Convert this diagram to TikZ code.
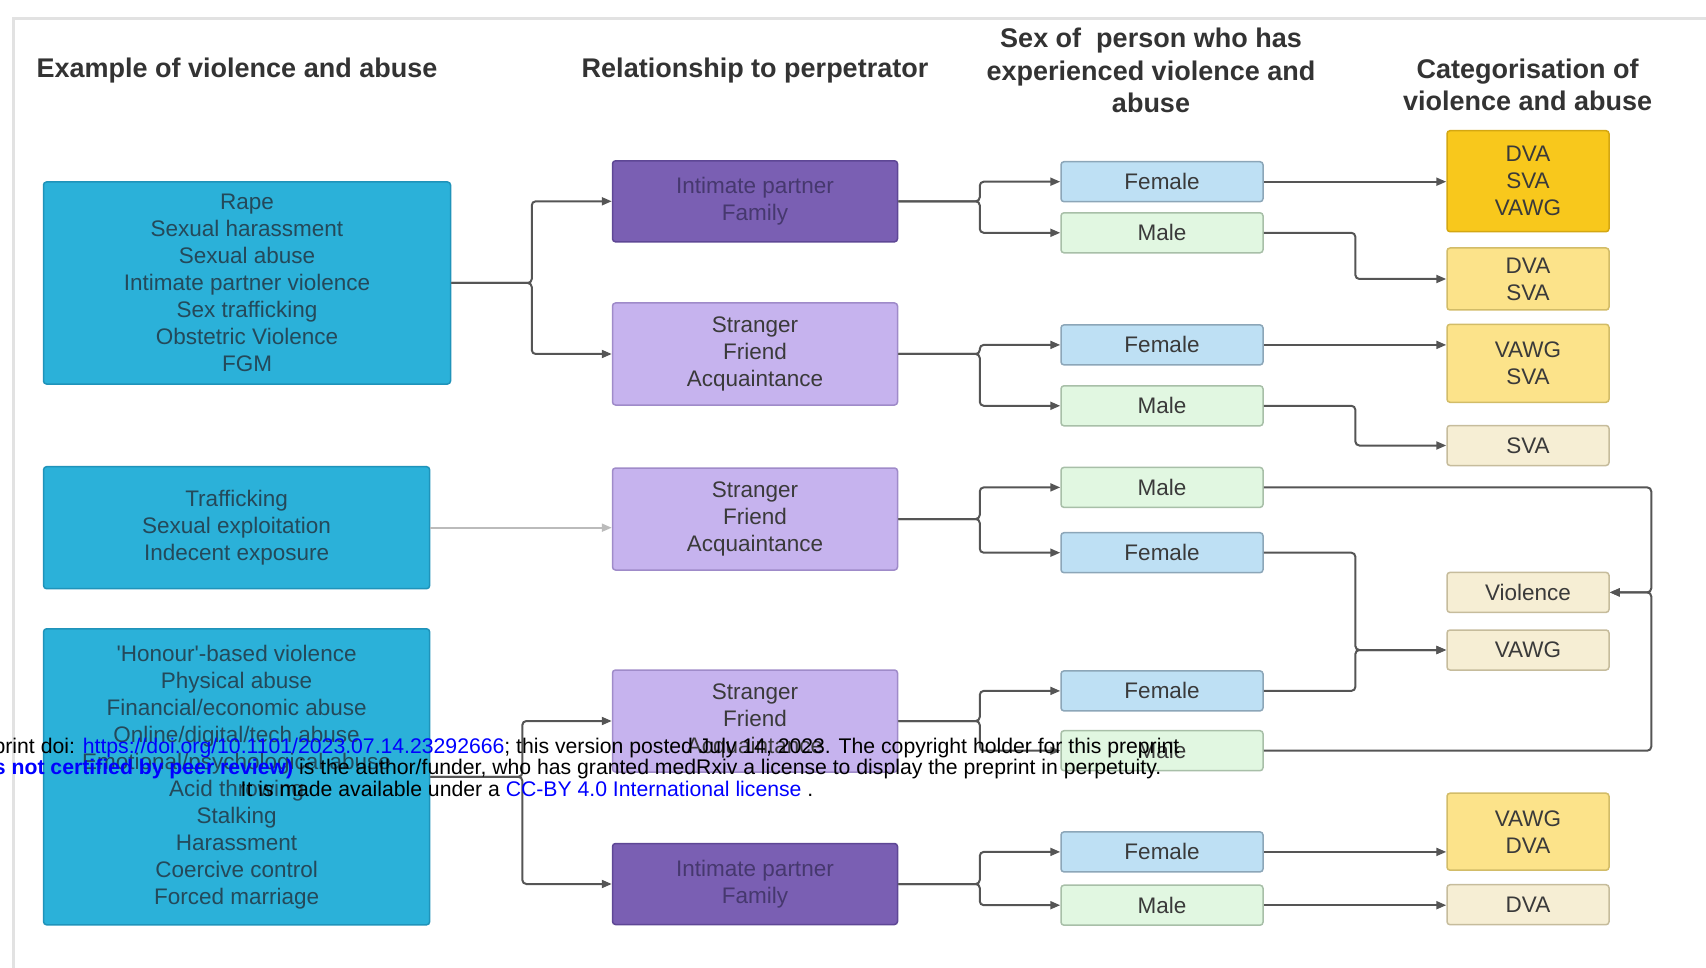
\documentclass[tikz,border=0pt]{standalone}
\usepackage{fontspec}
\setmainfont{Liberation Sans}
\usetikzlibrary{arrows.meta}

\definecolor{framegray}{HTML}{E2E2E2}
\definecolor{headgray}{HTML}{333333}
\definecolor{txtgray}{HTML}{3A3A3A}
\definecolor{linkgray}{HTML}{555555}
\definecolor{abuseblue}{HTML}{2BB1D9}
\definecolor{abuseedge}{HTML}{1F93BA}
\definecolor{abusetxt}{HTML}{24495A}
\definecolor{partnerfill}{HTML}{7A5FB3}
\definecolor{partneredge}{HTML}{5E4795}
\definecolor{partnertxt}{HTML}{46386E}
\definecolor{strangerfill}{HTML}{C6B3EE}
\definecolor{strangeredge}{HTML}{9F8BC9}
\definecolor{femalefill}{HTML}{BEE0F4}
\definecolor{femaleedge}{HTML}{8CA6B8}
\definecolor{malefill}{HTML}{E1F7E1}
\definecolor{maleedge}{HTML}{A8BFA8}
\definecolor{catdark}{HTML}{F8C81C}
\definecolor{catdarkedge}{HTML}{D4A712}
\definecolor{catmid}{HTML}{FCE38A}
\definecolor{catmidedge}{HTML}{D2BC68}
\definecolor{catlight}{HTML}{F6EED4}
\definecolor{catlightedge}{HTML}{C6BC9C}

\tikzset{
  box/.style={draw, rounded corners=3pt, line width=1.5pt, align=center,
    inner sep=0pt, text=txtgray, font=\fontsize{22.5}{27}\selectfont},
  abusebox/.style={box, fill=abuseblue, draw=abuseedge, text=abusetxt, minimum width=386pt},
  partnerbox/.style={box, fill=partnerfill, draw=partneredge, text=partnertxt,
    minimum width=285pt, minimum height=81pt},
  strangerbox/.style={box, fill=strangerfill, draw=strangeredge,
    minimum width=285pt, minimum height=102pt},
  femalebox/.style={box, fill=femalefill, draw=femaleedge, minimum width=202pt, minimum height=40pt},
  malebox/.style={box, fill=malefill, draw=maleedge, minimum width=202pt, minimum height=40pt},
  catbox/.style={box, minimum width=162pt},
  heading/.style={align=center, text=headgray, inner sep=0pt,
    font=\fontsize{27}{32.6}\selectfont\bfseries},
  link/.style={draw=linkgray, line width=2pt, rounded corners=4pt,
    -{Triangle[length=10pt,width=8pt]}},
}

\begin{document}
\begin{tikzpicture}[x=1pt,y=1pt,yscale=-1,xscale=1]
\useasboundingbox (0,0) rectangle (1706,968);

%Frame
\draw[framegray, line width=3pt] (1706,18.5) -- (13,18.5) -- (13,968);

% Headings
\node[heading] (hexample) at (237,70.7) {Example of violence and abuse};
\node[heading] (hrelation) at (755,70.7) {Relationship to perpetrator};
\node[heading] (hsex) at (1151,70.7) {Sex of\ \ person who has\\experienced violence and\\abuse};
\node[heading] (hcat) at (1527.6,84.9) {Categorisation of\\violence and abuse};

% Examples of violence and abuse
\node[abusebox, minimum width=407pt, minimum height=202pt] (ex1) at (247,283)
  {Rape\\Sexual harassment\\Sexual abuse\\Intimate partner violence\\Sex trafficking\\Obstetric Violence\\FGM};
\node[abusebox, minimum height=122pt] (ex2) at (236.6,527.7)
  {Trafficking\\Sexual exploitation\\Indecent exposure};
\node[abusebox, minimum height=296pt] (ex3) at (236.6,776.8)
  {\textquotesingle Honour\textquotesingle-based violence\\Physical abuse\\Financial/economic abuse\\Online/digital/tech abuse\\Emotional/psychological abuse\\Acid throwing\\Stalking\\Harassment\\Coercive control\\Forced marriage};

% Relationship to perpetrator
\node[partnerbox] (rel1) at (755,201.3) {Intimate partner\\Family};
\node[strangerbox] (rel2) at (755,354) {Stranger\\Friend\\Acquaintance};
\node[strangerbox] (rel3) at (755,519) {Stranger\\Friend\\Acquaintance};
\node[strangerbox] (rel4) at (755,721) {Stranger\\Friend\\Acquaintance};
\node[partnerbox] (rel5) at (755,884) {Intimate partner\\Family};

% Sex of person
\node[femalebox] (f1) at (1162,181.7) {Female};
\node[malebox] (m1) at (1162,232.8) {Male};
\node[femalebox] (f2) at (1162,344.9) {Female};
\node[malebox] (m2) at (1162,405.8) {Male};
\node[malebox] (m3) at (1162,487.4) {Male};
\node[femalebox] (f3) at (1162,552.7) {Female};
\node[femalebox] (f4) at (1162,690.9) {Female};
\node[malebox] (m4) at (1162,750.7) {Male};
\node[femalebox] (f5) at (1162,851.9) {Female};
\node[malebox] (m5) at (1162,905.2) {Male};

% Categorisation
\node[catbox, fill=catdark, draw=catdarkedge, minimum height=101pt] (c1) at (1528,181.2) {DVA\\SVA\\VAWG};
\node[catbox, fill=catmid, draw=catmidedge, minimum height=62pt] (c2) at (1528,279) {DVA\\SVA};
\node[catbox, fill=catmid, draw=catmidedge, minimum height=78pt] (c3) at (1528,363.3) {VAWG\\SVA};
\node[catbox, fill=catlight, draw=catlightedge, minimum height=40pt] (c4) at (1528,445.5) {SVA};
\node[catbox, fill=catlight, draw=catlightedge, minimum height=40pt] (c5) at (1528,592.4) {Violence};
\node[catbox, fill=catlight, draw=catlightedge, minimum height=40pt] (c6) at (1528,650) {VAWG};
\node[catbox, fill=catmid, draw=catmidedge, minimum height=77pt] (c7) at (1528,831.7) {VAWG\\DVA};
\node[catbox, fill=catlight, draw=catlightedge, minimum height=40pt] (c8) at (1528,904.7) {DVA};

% examples -> relationship
\draw[link] (ex1.east) -- ++(80.5,0) |- (rel1.west);
\draw[link] (ex1.east) -- ++(80.5,0) |- (rel2.west);
\draw[link, draw=linkgray!40] (ex2.east) -- (ex2.east -| rel3.west);
\draw[link] (ex3.east) -- ++(92,0) |- (rel4.west);
\draw[link] (ex3.east) -- ++(92,0) |- (rel5.west);

% relationship -> sex
\draw[link] (rel1.east) -- ++(81.5,0) |- (f1.west);
\draw[link] (rel1.east) -- ++(81.5,0) |- (m1.west);
\draw[link] (rel2.east) -- ++(81.5,0) |- (f2.west);
\draw[link] (rel2.east) -- ++(81.5,0) |- (m2.west);
\draw[link] (rel3.east) -- ++(81.5,0) |- (m3.west);
\draw[link] (rel3.east) -- ++(81.5,0) |- (f3.west);
\draw[link] (rel4.east) -- ++(81.5,0) |- (f4.west);
\draw[link] (rel4.east) -- ++(81.5,0) |- (m4.west);
\draw[link] (rel5.east) -- ++(81.5,0) |- (f5.west);
\draw[link] (rel5.east) -- ++(81.5,0) |- (m5.west);

% sex -> categorisation
\draw[link] (f1.east) -- (f1.east -| c1.west);
\draw[link] (m1.east) -- ++(91.6,0) |- (c2.west);
\draw[link] (f2.east) -- (f2.east -| c3.west);
\draw[link] (m2.east) -- ++(91.6,0) |- (c4.west);
\draw[link] (m3.east) -- ++(387.5,0) |- (c5.east);
\draw[link] (m4.east) -- ++(387.5,0) |- (c5.east);
\draw[link] (f3.east) -- ++(91.6,0) |- (c6.west);
\draw[link] (f4.east) -- ++(91.6,0) |- (c6.west);
\draw[link] (f5.east) -- (f5.east -| c7.west);
\draw[link] (m5.east) -- (m5.east -| c8.west);

% Preprint stamp
\node[align=center, inner sep=0pt, font=\fontsize{21.2}{21.5}\selectfont] (stamp) at (527,767)
  {medRxiv preprint doi: \textcolor{blue}{https://doi.org/10.1101/2023.07.14.23292666}; this version posted July 14, 2023. The copyright holder for this preprint\\
   \textcolor{blue}{\bfseries (which was not certified by peer review)} is the author/funder, who has granted medRxiv a license to display the preprint in perpetuity.\\
   It is made available under a \textcolor{blue}{CC-BY 4.0 International license} .};

\end{tikzpicture}
\end{document}
